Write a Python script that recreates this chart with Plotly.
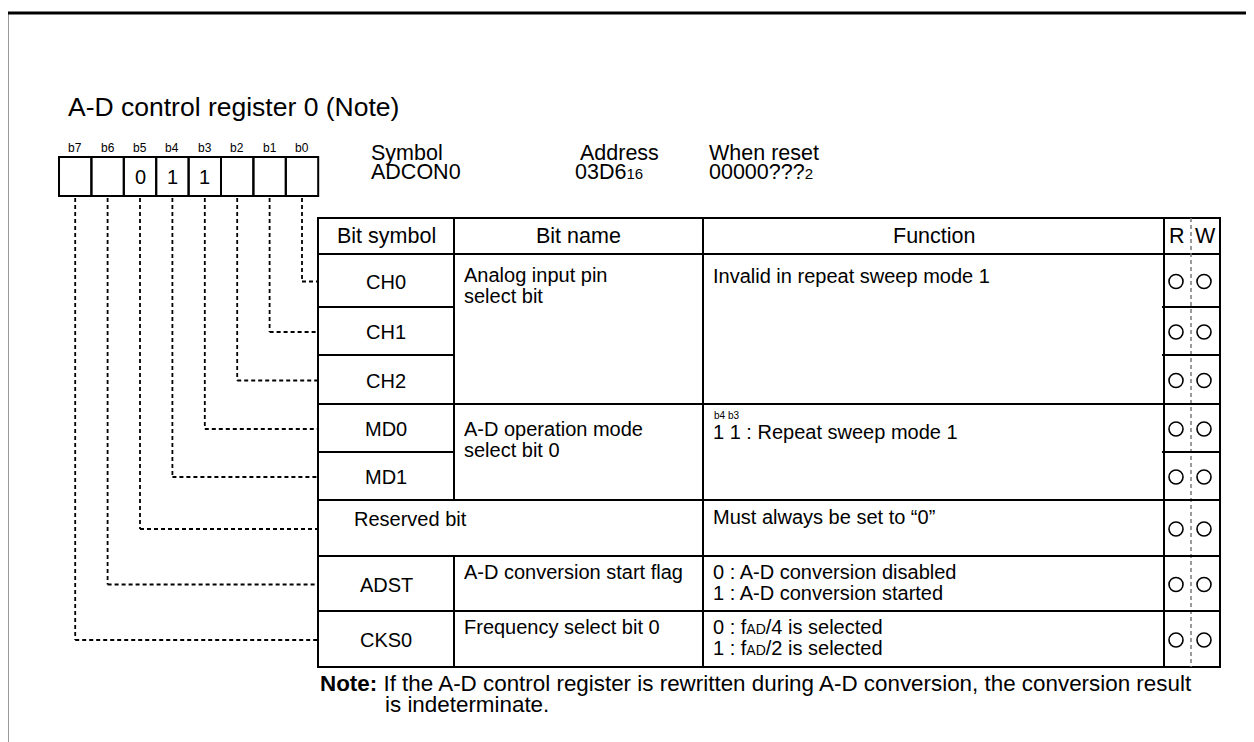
import plotly.graph_objects as go

# ---------------- data (text content) ----------------
title_text = "A-D control register 0 (Note)"
bit_labels = ["b7", "b6", "b5", "b4", "b3", "b2", "b1", "b0"]
bit_values = ["", "", "0", "1", "1", "", "", ""]
info_labels = ["Symbol", "Address", "When reset"]
info_values = ["ADCON0",
               "03D6<span style='font-size:15px'>16</span>",
               "00000???<span style='font-size:15px'>2</span>"]
header_labels = ["Bit symbol", "Bit name", "Function", "R", "W"]
# rows listed from b0 to b7
bit_symbols = ["CH0", "CH1", "CH2", "MD0", "MD1", "Reserved bit", "ADST", "CKS0"]
bit_name_lines = [
    ["Analog input pin", "select bit"],
    ["A-D operation mode", "select bit 0"],
    ["A-D conversion start flag"],
    ["Frequency select bit 0"],
]
function_lines = [
    ["Invalid in repeat sweep mode 1"],
    ["1 1 : Repeat sweep mode 1"],
    ["Must always be set to “0”"],
    ["0 : A-D conversion disabled", "1 : A-D conversion started"],
    ["0 : f<span style='font-size:14px'>AD</span>/4 is selected",
     "1 : f<span style='font-size:14px'>AD</span>/2 is selected"],
]
function_sub = "b4 b3"
read_flags = ["O", "O", "O", "O", "O", "O", "O", "O"]
write_flags = ["O", "O", "O", "O", "O", "O", "O", "O"]
note_line1 = "<b>Note:</b> If the A-D control register is rewritten during A-D conversion, the conversion result"
note_line2 = "is indeterminate."

# ---------------- layout constants ----------------
W, H = 1254, 742
OFF = 8  # page body margin
FONT = "Liberation Sans, Arial, Helvetica, sans-serif"
BORDER_X, BORDER_Y = 7, 13
BOX_X0, BOX_W, BOX_Y0, BOX_Y1 = 59, 32.4, 157, 196
COL = [318, 454, 703, 1164, 1191, 1220]
TBL_TOP, HDR_BOT = 218, 254
ROWS = [254, 307, 355, 404, 452, 500, 556, 611, 667]
LW = 2.0

shapes = []
ann = []


def line(x0, y0, x1, y1, width=LW, color="black", dash=None):
    d = dict(type="line", xref="x", yref="y", x0=x0, y0=y0, x1=x1, y1=y1,
             line=dict(color=color, width=width))
    if dash:
        d["line"]["dash"] = dash
    shapes.append(d)


def text(x, y, s, size=20, anchor="left"):
    ann.append(dict(x=x, y=y, xref="x", yref="y", text=s, showarrow=False,
                    xanchor=anchor, yanchor="middle",
                    font=dict(family=FONT, size=size, color="black")))


# outer frame (top and left)
line(BORDER_X, BORDER_Y, W + 5, BORDER_Y, width=2.8)
line(BORDER_X, BORDER_Y, BORDER_X, H + 5, width=2.8)

# title
text(66, 107, title_text, size=26.5)

# bit boxes
for i, (lab, val) in enumerate(zip(bit_labels, bit_values)):
    x0 = BOX_X0 + i * BOX_W
    cx = x0 + BOX_W / 2
    shapes.append(dict(type="rect", xref="x", yref="y", x0=x0, x1=x0 + BOX_W,
                       y0=BOX_Y0, y1=BOX_Y1, line=dict(color="black", width=LW)))
    text(cx, 148, lab, size=12, anchor="center")
    if val:
        text(cx, 177, val, size=20, anchor="center")

# info block
label_x = [369, 578, 707]
value_x = [369, 573, 707]
for i, (lab, val) in enumerate(zip(info_labels, info_values)):
    text(label_x[i], 153, lab, size=21.5)
    text(value_x[i], 172, val, size=21.5)

row_centers = [(ROWS[k] + ROWS[k + 1]) / 2 for k in range(8)]

# connectors from bit k to row k
for k in range(8):
    i = 7 - k
    cx = BOX_X0 + i * BOX_W + BOX_W / 2
    yc = row_centers[k] + 1
    line(cx, BOX_Y1 + 2, cx, yc, width=1.8, dash="4px,3px")
    line(cx, yc, COL[0], yc, width=1.8, dash="4px,3px")

# table outline
shapes.append(dict(type="rect", xref="x", yref="y", x0=COL[0], x1=COL[5],
                   y0=TBL_TOP, y1=ROWS[-1], line=dict(color="black", width=LW)))
line(COL[0], HDR_BOT, COL[5], HDR_BOT)
# vertical column lines
line(COL[1], TBL_TOP, COL[1], ROWS[5])
line(COL[1], ROWS[6], COL[1], ROWS[8])
line(COL[2], TBL_TOP, COL[2], ROWS[8])
line(COL[3], TBL_TOP, COL[3], ROWS[8])
line(COL[4], TBL_TOP, COL[4], ROWS[8], width=1.5, color="#7a7a7a", dash="4px,3px")
# row lines
for k in range(1, 8):
    y = ROWS[k]
    line(COL[0], y, COL[1], y)               # bit symbol column
    line(COL[3] - 2, y, COL[5], y)           # R/W column
for k in [3, 5, 6, 7]:
    y = ROWS[k]
    line(COL[1], y, COL[3], y)

# header texts
text((COL[0] + COL[1]) / 2, 236, header_labels[0], size=21.5, anchor="center")
text((COL[1] + COL[2]) / 2, 236, header_labels[1], size=21.5, anchor="center")
text((COL[2] + COL[3]) / 2, 236, header_labels[2], size=21.5, anchor="center")
text(1177, 236, header_labels[3], size=21.5, anchor="center")
text(1205, 236, header_labels[4], size=21.5, anchor="center")

# bit symbol texts
for k, s in enumerate(bit_symbols):
    if s == "Reserved bit":
        text(352, 519, s, size=20)
    else:
        text((COL[0] + COL[1]) / 2, row_centers[k] + 1, s, size=20, anchor="center")

# bit names
name_y = [275, 429, 572, 627]
for lines_, y in zip(bit_name_lines, name_y):
    for j, s in enumerate(lines_):
        text(462, y + 21 * j, s, size=20)

# function texts
func_y = [276, 432, 517, 572, 627]
for lines_, y in zip(function_lines, func_y):
    for j, s in enumerate(lines_):
        text(711, y + 21 * j, s, size=20)
text(712, 415, function_sub, size=10)

# R/W circles
fig = go.Figure()
fig.add_trace(go.Scatter(
    x=[1176] * len(read_flags), y=[c + 1 for c in row_centers],
    mode="markers", hoverinfo="skip",
    marker=dict(symbol="circle-open", size=14, color="black", line=dict(width=1.6))))
fig.add_trace(go.Scatter(
    x=[1204] * len(write_flags), y=[c + 1 for c in row_centers],
    mode="markers", hoverinfo="skip",
    marker=dict(symbol="circle-open", size=14, color="black", line=dict(width=1.6))))

# note
text(318, 683, note_line1, size=22.4)
text(383, 704, note_line2, size=22.4)

fig.update_layout(
    width=W - OFF, height=H - OFF, margin=dict(l=0, r=0, t=0, b=0),
    paper_bgcolor="white", plot_bgcolor="white", showlegend=False,
    xaxis=dict(range=[OFF, W], visible=False, fixedrange=True),
    yaxis=dict(range=[H, OFF], visible=False, fixedrange=True),
    shapes=shapes, annotations=ann,
)
fig.write_html("out.html")
